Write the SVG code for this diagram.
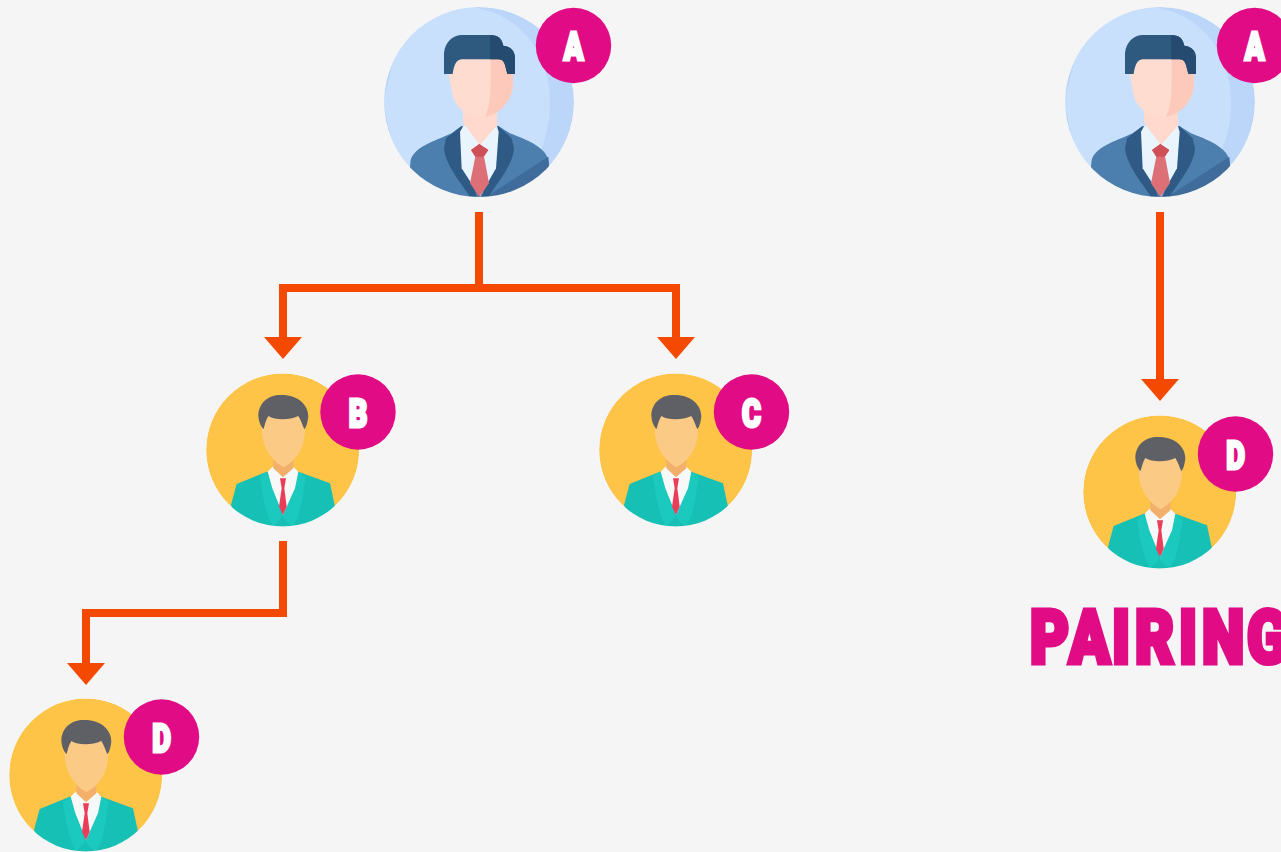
<svg xmlns="http://www.w3.org/2000/svg" xmlns:xlink="http://www.w3.org/1999/xlink" width="1281" height="852" viewBox="0 0 1281 852">
<style>
.badge{fill:#e00b85}
.bl{font-family:"Roboto","Liberation Sans",sans-serif;font-weight:900;font-size:38px;fill:#fff;stroke:#fff;stroke-width:3px;text-anchor:middle}
.title{font-family:"Roboto","Liberation Sans",sans-serif;font-weight:900;font-size:75px;fill:#e00b85;stroke:#e00b85;stroke-width:5px}
.conn{fill:none;stroke:#f44900;stroke-width:8}
</style>
<defs>
<filter id="soft" x="-5%" y="-5%" width="110%" height="110%"><feGaussianBlur stdDeviation="1.500"/></filter>
<marker id="head" markerUnits="userSpaceOnUse" markerWidth="22" markerHeight="38" refX="0" refY="19" orient="auto" viewBox="0 0 22 38"><path d="M0 0L22 19L0 38Z" fill="#f44900"/></marker>
<clipPath id="bigClip"><circle cx="327" cy="306" r="285"/></clipPath>
<clipPath id="smallClip"><circle cx="263" cy="270" r="229.500"/></clipPath>
<g id="bigPerson" transform="translate(370,0) scale(.33333)">
<g clip-path="url(#bigClip)" filter="url(#soft)">
<circle cx="327" cy="306" r="285" fill="#bcd6f9"/>
<path d="M300 21C460 40 545 170 540 320C535 450 470 560 360 595L100 595L40 306L100 60Z" fill="#c9e0fc"/>
<path d="M122 480C135 440 190 425 245 400L275 378L385 378L420 400C470 420 525 440 535 480L545 600L110 600Z" fill="#4d7fae"/>
<path d="M350 590L535 470L545 600Z" fill="#3f6c9b"/>
<path d="M222 445L228 415L275 378L300 520L320 590L300 590C265 540 225 490 222 445Z" fill="#2d5a85"/>
<path d="M432 445L425 415L385 378L360 520L335 590L355 590C390 540 430 490 432 445Z" fill="#2d5a85"/>
<path d="M270 395L280 378L380 378L386 395L378 505L330 590L275 505Z" fill="#eaf4fc"/>
<path d="M280 370L278 330L380 330L382 375L330 435Z" fill="#ffd9cd"/>
<path d="M226 170L430 170L428 265C420 310 385 345 330 350C275 345 250 315 244 265Z" fill="#ffdcd0"/>
<path d="M362 170L430 170L428 265C420 310 385 345 345 350C365 310 362 250 362 170Z" fill="#fcc9ba"/>
<path d="M222 222L222 160C225 125 250 105 275 105L360 105C385 105 395 115 400 137C425 140 435 155 435 175L435 222L412 222L405 195C400 180 395 178 380 178L275 178C258 180 252 195 248 222Z" fill="#2f5a80"/>
<path d="M360 105C385 105 395 115 400 137C425 140 435 155 435 175L435 222L412 222L405 195C400 180 395 178 380 178L360 178Z" fill="#264c70"/>
<path d="M303 450L328 432L355 450L342 470L346 490L357 550L328 590L300 550L312 490L316 470Z" fill="#dd6f77"/>
<path d="M303 450L328 432L355 450L340 470L316 470Z" fill="#cf4f58"/>
</g>
</g>
<g id="smallPerson" transform="translate(195,360) scale(.33333)">
<g clip-path="url(#smallClip)" filter="url(#soft)">
<circle cx="263" cy="270" r="229.500" fill="#fdc446"/>
<path d="M125 372L215 335L310 335L405 370L420 440L400 500L130 500L108 435Z" fill="#17c0b4"/>
<path d="M195 350L215 335L262 470L235 500L220 470L205 415Z" fill="#1cc9bf"/>
<path d="M332 350L310 335L262 470L290 500L310 470L322 415Z" fill="#1cc9bf"/>
<path d="M218 335L232 320L295 320L310 335L300 385L264 465L232 385Z" fill="#f7f8f8"/>
<path d="M235 300L295 300L295 325L264 352L235 325Z" fill="#f2b06b"/>
<path d="M200 150L330 150L330 200C332 250 315 295 265 322C220 295 198 250 200 200Z" fill="#fbca84"/>
<path d="M190 165C192 125 225 103 260 105C310 105 340 135 340 170C338 185 335 200 328 208C322 195 318 180 310 168C280 182 240 180 220 168C212 180 210 195 205 208C195 195 190 180 190 165Z" fill="#5e6066"/>
<path d="M255 355L273 355L268 385L275 440L264 465L252 440L260 385Z" fill="#ea3e5a"/>
</g>
</g>
</defs>
<rect width="1281" height="852" fill="#f5f5f5"/>
<g id="connectors">
<path class="conn" d="M479 212V288"/>
<path class="conn" d="M479 288H283V337" marker-end="url(#head)"/>
<path class="conn" d="M479 288H676V337" marker-end="url(#head)"/>
<path class="conn" d="M283 541V613H86V663" marker-end="url(#head)"/>
<path class="conn" d="M1160 212V379" marker-end="url(#head)"/>
</g>
<g id="node-a-left"><use xlink:href="#bigPerson" href="#bigPerson"/><circle class="badge" cx="573.500" cy="45.500" r="37.700"/><text class="bl" transform="translate(573.500,60) scale(.76,1)">A</text></g>
<g id="node-b"><use xlink:href="#smallPerson" href="#smallPerson"/><circle class="badge" cx="358" cy="412" r="37.700"/><text class="bl" transform="translate(358,427) scale(.76,1)">B</text></g>
<g id="node-c"><use xlink:href="#smallPerson" href="#smallPerson" x="393"/><circle class="badge" cx="751.500" cy="412" r="37.700"/><text class="bl" transform="translate(751.500,427) scale(.76,1)">C</text></g>
<g id="node-d-left"><use xlink:href="#smallPerson" href="#smallPerson" x="-197" y="325"/><circle class="badge" cx="161.500" cy="737" r="37.700"/><text class="bl" transform="translate(161.500,752) scale(.76,1)">D</text></g>
<g id="node-a-right"><use xlink:href="#bigPerson" href="#bigPerson" x="681"/><circle class="badge" cx="1254.500" cy="45.500" r="37.700"/><text class="bl" transform="translate(1254.500,60) scale(.76,1)">A</text></g>
<g id="node-d-right"><use xlink:href="#smallPerson" href="#smallPerson" x="877" y="42"/><circle class="badge" cx="1235.500" cy="454" r="37.700"/><text class="bl" transform="translate(1235.500,469) scale(.76,1)">D</text></g>
<text id="title" class="title" transform="translate(0,663) scale(.8,1)" x="1287.500 1336.200 1390 1418.800 1473.800 1502.500 1558.800">PAIRING</text>
</svg>
